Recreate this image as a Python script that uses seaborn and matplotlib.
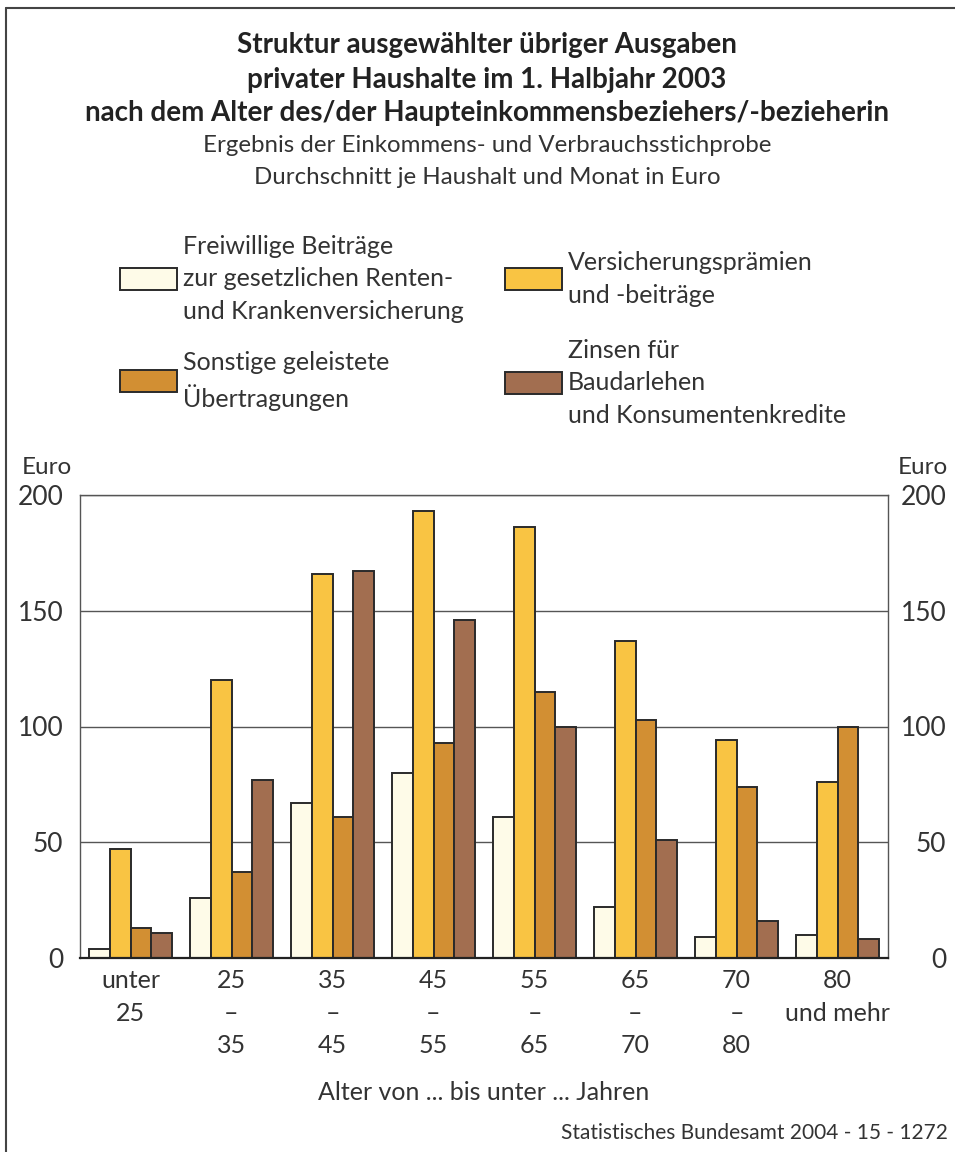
import seaborn as sns
import matplotlib.pyplot as plt
import pandas as pd
from matplotlib.patches import Rectangle
from matplotlib.lines import Line2D

# Altersgruppen (x-Achse)
alter = ["unter\n25", "25\n–\n35", "35\n–\n45", "45\n–\n55",
         "55\n–\n65", "65\n–\n70", "70\n–\n80", "80\nund mehr"]

serien = ["Freiwillige Beiträge\nzur gesetzlichen Renten-\nund Krankenversicherung",
          "Versicherungsprämien\nund -beiträge",
          "Sonstige geleistete\nÜbertragungen",
          "Zinsen für\nBaudarlehen\nund Konsumentenkredite"]

# Werte in Euro je Haushalt und Monat
freiwillig = [4, 26, 67, 80, 61, 22, 9, 10]
versicherung = [47, 120, 166, 193, 186, 137, 94, 76]
sonstige = [13, 37, 61, 93, 115, 103, 74, 100]
zinsen = [11, 77, 167, 146, 100, 51, 16, 8]

farben = ["#FEFBE8", "#F9C443", "#D28F33", "#A26E50"]

rows = []
for s, werte in zip(serien, [freiwillig, versicherung, sonstige, zinsen]):
    for a, w in zip(alter, werte):
        rows.append({"alter": a, "serie": s, "euro": w})
df = pd.DataFrame(rows)

sns.set_style("white")
plt.rcParams['font.family'] = ['Lato', 'DejaVu Sans']
txt = "#333333"

fig = plt.figure(figsize=(9.55, 11.52), dpi=100)
ax = fig.add_axes([80 / 955, 1 - 958 / 1152, 808 / 955, 463 / 1152])

sns.barplot(data=df, x="alter", y="euro", hue="serie", palette=farben,
            width=0.83, edgecolor="#2a2a2a", linewidth=1.4, saturation=1,
            legend=False, ax=ax)

ax.set_xlim(-0.5, 7.5)
ax.set_ylim(0, 200)
ax.set_yticks([0, 50, 100, 150, 200])
ax.yaxis.grid(True, color="#555555", linewidth=1)
ax.set_axisbelow(True)
ax.set_xlabel("")
ax.set_ylabel("")
for sp in ["left", "right", "top"]:
    ax.spines[sp].set_color("#555555")
    ax.spines[sp].set_linewidth(1)
ax.spines["bottom"].set_color("#222222")
ax.spines["bottom"].set_linewidth(1.6)

ax.tick_params(axis="y", length=0, pad=12, labelsize=19, labelcolor=txt)
ax.set_xticks(range(8))
ax.set_xticklabels(alter, linespacing=1.5)
ax.tick_params(axis="x", which="major", length=0, pad=8, labelsize=18, labelcolor=txt)
ax.set_xticks([i - 0.5 for i in range(9)], minor=True)
ax.tick_params(axis="x", which="minor", length=5, width=1, color="#333333", direction="out")

ax2 = ax.twinx()
ax2.set_ylim(0, 200)
ax2.set_yticks([0, 50, 100, 150, 200])
ax2.tick_params(axis="y", length=0, pad=42, labelsize=19, labelcolor=txt)
for t in ax2.get_yticklabels():
    t.set_horizontalalignment("right")
for sp in ax2.spines.values():
    sp.set_visible(False)

# Titel
def fy(y):
    return 1 - y / 1152

for y, zeile in [(45, "Struktur ausgewählter übriger Ausgaben"),
                 (80, "privater Haushalte im 1. Halbjahr 2003"),
                 (113, "nach dem Alter des/der Haupteinkommensbeziehers/-bezieherin")]:
    fig.text(487 / 955, fy(y), zeile, ha="center", va="center",
             fontsize=20, fontweight="bold", color="#222222")
fig.text(487 / 955, fy(145), "Ergebnis der Einkommens- und Verbrauchsstichprobe", ha="center",
         va="center", fontsize=17.3, color=txt)
fig.text(487 / 955, fy(177), "Durchschnitt je Haushalt und Monat in Euro", ha="center",
         va="center", fontsize=17.3, color=txt)

# Legende
leg = [(120, 279, 0), (505, 279, 1), (120, 381, 2), (505, 383, 3)]
for x, yc, i in leg:
    fig.add_artist(Rectangle((x / 955, fy(yc + 11)), 57 / 955, 22 / 1152,
                             transform=fig.transFigure, facecolor=farben[i],
                             edgecolor="#2a2a2a", linewidth=1.4))
    fig.text((x + 63) / 955, fy(yc), serien[i], ha="left", va="center",
             fontsize=18, color=txt, linespacing=1.48)

fig.text(22 / 955, fy(467), "Euro", ha="left", va="center", fontsize=17.5, color=txt)
fig.text(948 / 955, fy(467), "Euro", ha="right", va="center", fontsize=17.5, color=txt)
fig.text(484 / 955, fy(1092), "Alter von ... bis unter ... Jahren", ha="center", va="center",
         fontsize=18, color=txt)
fig.text(948 / 955, fy(1133), "Statistisches Bundesamt 2004 - 15 - 1272", ha="right",
         va="center", fontsize=15, color=txt)

# Rahmen
fig.add_artist(Line2D([6 / 955, 6 / 955], [0, fy(8)], transform=fig.transFigure,
                      color="#444444", linewidth=1.5))
fig.add_artist(Line2D([6 / 955, 1], [fy(8), fy(8)], transform=fig.transFigure,
                      color="#444444", linewidth=1.5))

fig.savefig("out.png", dpi=100)
